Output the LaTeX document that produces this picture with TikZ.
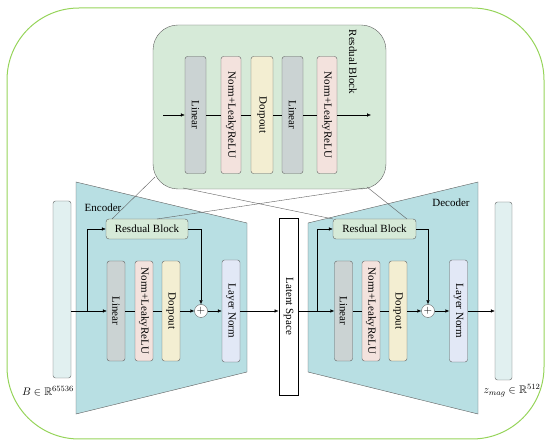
\documentclass[tikz,border=0pt]{standalone}
\usepackage{amsmath,amssymb}
\usepackage{fontspec}
\setmainfont{Liberation Serif}
\usetikzlibrary{arrows.meta}

\definecolor{outerg}{RGB}{150,212,90}
\definecolor{resfill}{RGB}{214,234,216}
\definecolor{trapfill}{RGB}{184,223,227}
\definecolor{linfill}{RGB}{203,211,211}
\definecolor{normfill}{RGB}{243,226,221}
\definecolor{dropfill}{RGB}{243,238,210}
\definecolor{lnfill}{RGB}{226,232,246}
\definecolor{barfill}{RGB}{225,240,240}
\definecolor{edgegray}{RGB}{95,95,95}

\begin{document}
\begin{tikzpicture}[x=1pt, y=-1pt, >={Latex[length=4pt,width=3.5pt]},
	font=\fontsize{11}{13}\selectfont,
	vbox/.style={draw=edgegray, rounded corners=2.5pt, rotate=-90, inner sep=0pt,
		minimum width=100pt, minimum height=18pt},
	rbox/.style={draw=edgegray, fill=resfill, rounded corners=3pt, inner sep=0pt,
		minimum width=82pt, minimum height=20pt},
	bar/.style={draw=edgegray, fill=barfill, rounded corners=2.5pt, minimum width=18pt},
	plus/.style={draw=edgegray, fill=white, circle, inner sep=0pt, minimum size=13pt}]
		
		\useasboundingbox (0,0) rectangle (550,446);
		
		% outer frame
		\draw[outerg, line width=1pt, rounded corners=72pt] (7,8) rectangle (544,439);
		
		% residual block, zoomed
		\node[draw=edgegray, fill=resfill, rounded corners=25pt, minimum width=233pt,
			minimum height=164pt] (res) at (269.5,107) {};
		\node[rotate=-90] (res-title) at (353,62) {Resdual Block};
		\node[vbox, fill=linfill, minimum width=117pt, minimum height=21pt] (res-lin1) at (195.5,115) {Linear};
		\node[vbox, fill=normfill, minimum width=117pt, minimum height=20pt] (res-norm1) at (231,115) {Norm+LeakyReLU};
		\node[vbox, fill=dropfill, minimum width=117pt, minimum height=22pt] (res-drop) at (262,115) {Dorpout};
		\node[vbox, fill=linfill, minimum width=117pt, minimum height=21pt] (res-lin2) at (292.5,115) {Linear};
		\node[vbox, fill=normfill, minimum width=117pt, minimum height=20pt] (res-norm2) at (327,115) {Norm+LeakyReLU};
		\coordinate (res-in) at (163,115);
		\coordinate (res-out) at (371,115);
		\draw[->] (res-in) -- (res-lin1);
		\draw (res-lin1) -- (res-norm1) -- (res-drop) -- (res-lin2) -- (res-norm2);
		\draw[->] (res-norm2) -- (res-out);
		
		% encoder and decoder bodies
		\draw[draw=edgegray, fill=trapfill] (76,182) -- (247,223) -- (247,372) -- (76,414) -- cycle;
		\draw[draw=edgegray, fill=trapfill] (308,223) -- (478,182) -- (478,414) -- (308,372) -- cycle;
		\node (enc-label) at (103,208) {Encoder};
		\node (dec-label) at (451,203) {Decoder};
		
		% input and output
		\node[bar, minimum height=177pt] (inB) at (62,289.5) {};
		\node[bar, minimum height=178pt, minimum width=17pt] (outB) at (503.5,291) {};
		\node (in-label) at (48,391) {$B \in \mathbb{R}^{65536}$};
		\node (out-label) at (512,391) {$z_{mag} \in \mathbb{R}^{512}$};
		
		% latent space
		\node[draw=black, line width=0.9pt, fill=white, rotate=-90, inner sep=0pt,
			minimum width=177pt, minimum height=19pt] (latent) at (288.5,306.5) {Latent Space};
		
		% encoder
		\node[rbox] (enc-res) at (147,229) {Resdual Block};
		\node[vbox, fill=linfill] (enc-lin) at (116,311) {Linear};
		\node[vbox, fill=normfill] (enc-norm) at (144,311) {Norm+LeakyReLU};
		\node[vbox, fill=dropfill] (enc-drop) at (171,311) {Dorpout};
		\node[plus] (enc-plus) at (201,311) {$+$};
		\node[vbox, fill=lnfill, minimum width=102pt] (enc-ln) at (231,311) {Layer Norm};
		\coordinate (enc-split) at (87,311);
		\draw[->] (inB.east |- enc-lin) -- (enc-lin);
		\draw[->] (enc-split) |- (enc-res);
		\draw[->] (enc-res) -| (enc-plus);
		\draw (enc-lin) -- (enc-norm) -- (enc-drop);
		\draw[->] (enc-drop) -- (enc-plus);
		\draw[->] (enc-plus) -- (enc-ln);
		\draw[->] (enc-ln) -- (enc-ln -| latent.south);
		
		% decoder
		\node[rbox, minimum width=83pt] (dec-res) at (374.5,229) {Resdual Block};
		\node[vbox, fill=linfill] (dec-lin) at (343.5,311) {Linear};
		\node[vbox, fill=normfill] (dec-norm) at (371,311) {Norm+LeakyReLU};
		\node[vbox, fill=dropfill] (dec-drop) at (398,311) {Dorpout};
		\node[plus] (dec-plus) at (428,311) {$+$};
		\node[vbox, fill=lnfill, minimum width=102pt] (dec-ln) at (458.5,311) {Layer Norm};
		\coordinate (dec-split) at (317,311);
		\draw[->] (latent.north |- dec-lin) -- (dec-lin);
		\draw[->] (dec-split) |- (dec-res);
		\draw[->] (dec-res) -| (dec-plus);
		\draw (dec-lin) -- (dec-norm) -- (dec-drop);
		\draw[->] (dec-drop) -- (dec-plus);
		\draw[->] (dec-plus) -- (dec-ln);
		\draw[->] (dec-ln) -- (dec-ln -| outB.west);
		
		% zoom lines
		\coordinate (res-a) at (155,177);
		\coordinate (res-b) at (183,188);
		\coordinate (res-c) at (364,188);
		\coordinate (res-d) at (367,187);
		\coordinate (enc-a) at (112,219);
		\coordinate (enc-b) at (157,219);
		\coordinate (dec-a) at (333,219);
		\coordinate (dec-b) at (407,219);
		\draw[edgegray, thin] (res-a) -- (enc-a);
		\draw[edgegray, thin] (res-c) -- (enc-b);
		\draw[edgegray, thin] (res-b) -- (dec-a);
		\draw[edgegray, thin] (res-d) -- (dec-b);
		
	\end{tikzpicture}
\end{document}
